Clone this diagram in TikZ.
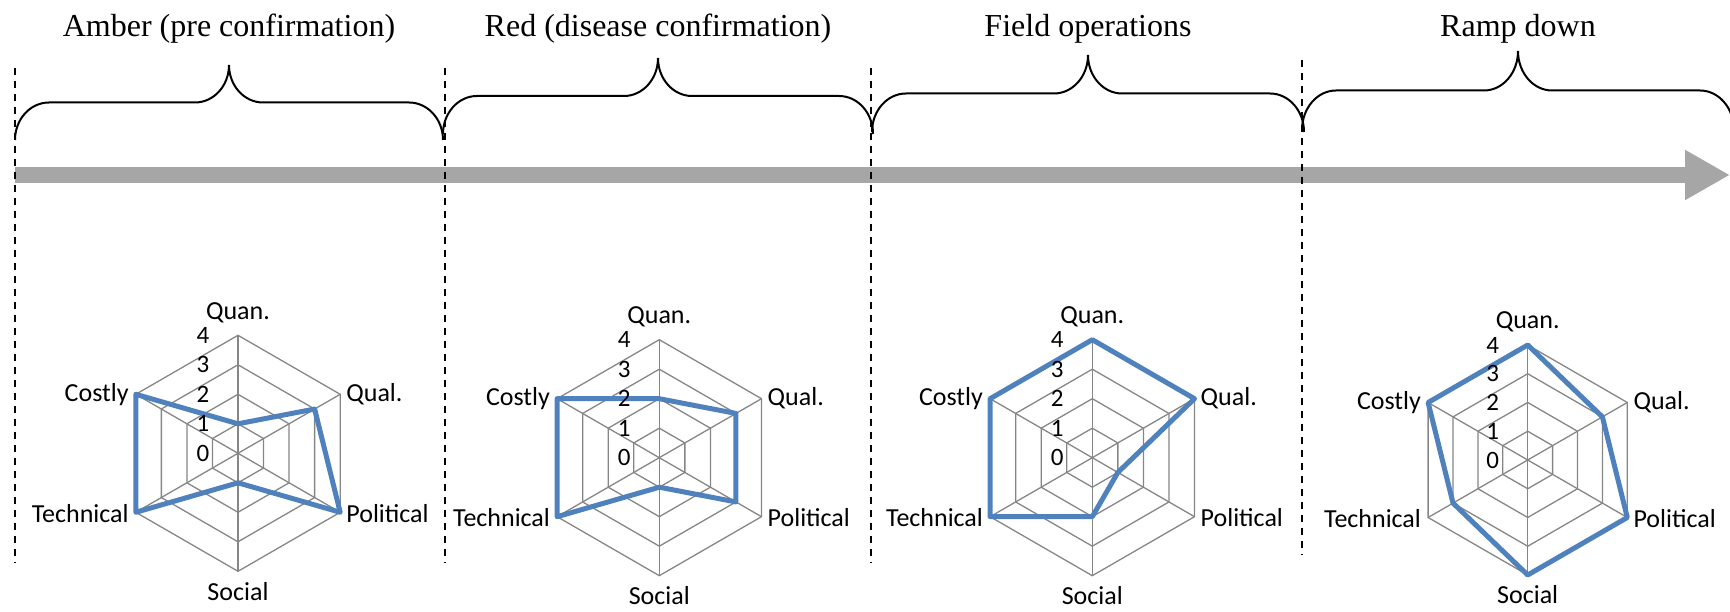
\documentclass[tikz,border=0pt]{standalone}
\usepackage{fontspec}
\setmainfont{Liberation Serif}
\newfontfamily\chartfont{Carlito}
\usetikzlibrary{arrows.meta}

\definecolor{scoreblue}{HTML}{4F81BD}
\definecolor{gridgray}{HTML}{868686}
\definecolor{timelinegray}{HTML}{A6A6A6}

\tikzset{
  gridline/.style={draw=gridgray, line width=1.3pt},
  scoreline/.style={draw=scoreblue, line width=5pt, line join=round},
  scorenum/.style={font=\chartfont\fontsize{25}{25}\selectfont, inner sep=0pt, anchor=east},
  axislabel/.style={font=\chartfont\fontsize{26}{26}\selectfont, inner sep=0pt},
  phasetitle/.style={font=\fontsize{32}{32}\selectfont, inner sep=0pt, anchor=base},
  phasebrace/.style={draw=black, line width=2pt},
  divider/.style={draw=black, line width=1.5pt, dash pattern=on 7pt off 6pt},
  timeline/.style={draw=timelinegray, line width=16pt, -{Triangle[length=45pt,width=47pt]}},
}

% Hexagonal radar chart around the current origin.
% #1 radius of the outer ring (score 4); #2..#7 scores for
% Quan., Qual., Political, Social, Technical, Costly.
\newcommand\radarchart[7]{%
  \foreach \k in {1,...,4}
    \draw[gridline] (90:\k*#1/4) -- (30:\k*#1/4) -- (-30:\k*#1/4) -- (-90:\k*#1/4)
      -- (-150:\k*#1/4) -- (150:\k*#1/4) -- cycle;
  \foreach \a in {90,30,-30,-90,-150,150}
    \draw[gridline] (0,0) -- (\a:#1);
  \draw[scoreline] (90:#2*#1/4) -- (30:#3*#1/4) -- (-30:#4*#1/4) -- (-90:#5*#1/4)
    -- (-150:#6*#1/4) -- (150:#7*#1/4) -- cycle;
  \foreach \v in {0,...,4}
    \node[scorenum] (n\v) at (-28.5,\v*#1/4) {\v};
  \node[axislabel, anchor=base] (quan) at (0,#1+16) {Quan.};
  \node[axislabel, anchor=base west] (qual) at (0.866*#1+6,#1/2-7) {Qual.};
  \node[axislabel, anchor=base west] (political) at (0.866*#1+6,-#1/2-10) {Political};
  \node[axislabel, anchor=base] (social) at (0,-#1-29) {Social};
  \node[axislabel, anchor=base east] (technical) at (-0.866*#1-7,-#1/2-10) {Technical};
  \node[axislabel, anchor=base east] (costly) at (-0.866*#1-7,#1/2-7) {Costly};
}

% Curly brace over one phase: #1 left x, #2 right x, #3 height of its feet,
% #4 rise from the feet to the straight part (the tip rises as much again).
\newcommand\phasebrace[4]{%
  \pgfmathsetmacro\bracemidx{(#1+#2)/2}
  \draw[phasebrace] (#1,#3) .. controls (#1,#3+0.552*#4) and (#1+15.2,#3+#4) .. (#1+34,#3+#4)
    -- (\bracemidx-34,#3+#4) .. controls (\bracemidx-15.2,#3+#4) and (\bracemidx,#3+1.448*#4) .. (\bracemidx,#3+2*#4)
    .. controls (\bracemidx,#3+1.448*#4) and (\bracemidx+15.2,#3+#4) .. (\bracemidx+34,#3+#4)
    -- (#2-34,#3+#4) .. controls (#2-15.2,#3+#4) and (#2,#3+0.552*#4) .. (#2,#3);
}

\begin{document}
\begin{tikzpicture}[x=1pt,y=1pt]
\useasboundingbox (0,0) rectangle (1730,612);

% phase titles
\node[phasetitle] (amber-title) at (229,575.5) {Amber (pre confirmation)};
\node[phasetitle] (red-title)   at (658,575.5) {Red (disease confirmation)};
\node[phasetitle] (field-title) at (1088,575.5) {Field operations};
\node[phasetitle] (ramp-title)  at (1518,575.5) {Ramp down};

% braces spanning each phase
\phasebrace{15}{443}{472}{37.5}
\phasebrace{443}{873}{478}{38}
\phasebrace{872}{1304}{480}{38.5}
\phasebrace{1302}{1734}{482}{39.5}

% time line
\coordinate (tl-start) at (15,437);
\coordinate (tl-end) at (1730,437);
\draw[timeline] (tl-start) -- (tl-end);

% phase boundaries
\coordinate (d1-top) at (15,544);   \coordinate (d1-bot) at (15,49);
\coordinate (d2-top) at (445,544);  \coordinate (d2-bot) at (445,49);
\coordinate (d3-top) at (871,544);  \coordinate (d3-bot) at (871,49);
\coordinate (d4-top) at (1302,552); \coordinate (d4-bot) at (1302,57);
\draw[divider] (d1-top) -- (d1-bot);
\draw[divider] (d2-top) -- (d2-bot);
\draw[divider] (d3-top) -- (d3-bot);
\draw[divider] (d4-top) -- (d4-bot);

% radar charts of the criteria scores in each phase
\begin{scope}[shift={(238,158.7)}, name prefix=amber-]
  \radarchart{118}{1}{3}{4}{1}{4}{4}
\end{scope}
\begin{scope}[shift={(659.3,154.3)}, name prefix=red-]
  \radarchart{118}{2}{3}{3}{1}{4}{4}
\end{scope}
\begin{scope}[shift={(1092.3,154.3)}, name prefix=field-]
  \radarchart{118}{4}{4}{1}{2}{4}{4}
\end{scope}
\begin{scope}[shift={(1527.7,152)}, name prefix=ramp-]
  \radarchart{115}{4}{3}{4}{4}{3}{4}
\end{scope}

\end{tikzpicture}
\end{document}
